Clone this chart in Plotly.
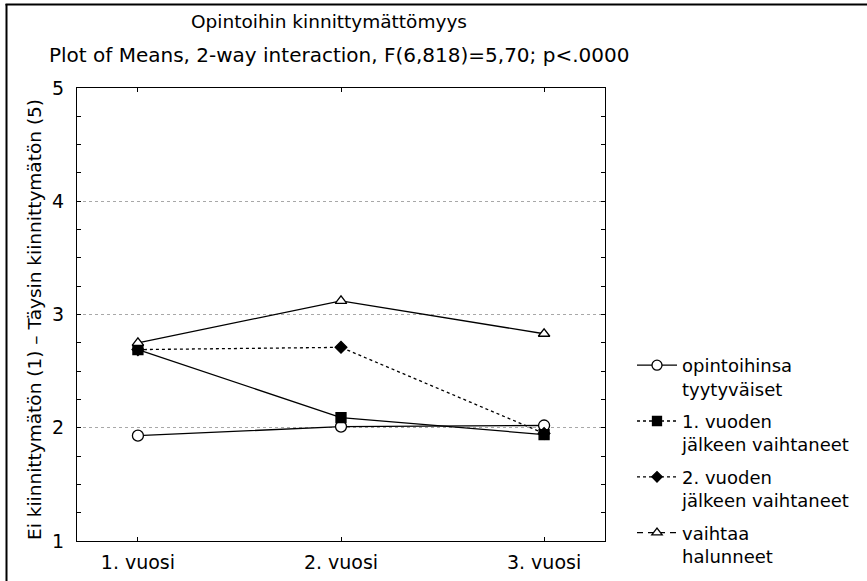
import plotly.graph_objects as go

categories = ["1. vuosi", "2. vuosi", "3. vuosi"]
series_names = ["opintoihinsa<br>tyytyväiset", "1. vuoden<br>jälkeen vaihtaneet",
                "2. vuoden<br>jälkeen vaihtaneet", "vaihtaa<br>halunneet"]
tyytyvaiset = [1.93, 2.01, 2.02]
vaihtaneet_1 = [2.69, 2.09, 1.94]
vaihtaneet_2 = [2.69, 2.71, 1.95]
vaihtaa_halunneet = [2.75, 3.12, 2.83]
y_ticks = [1, 2, 3, 4, 5]

FONT = "DejaVu Sans"
W, H = 867, 581
L, R, T, B = 77, 262, 88, 40
PW, PH = W - L - R, H - T - B

def px_x(p):
    return (p - L) / PW

def px_y(p):
    return (H - B - p) / PH

styles = [
    dict(symbol="circle", size=11, chart_dash="solid", legend_dash="solid", fill="white"),
    dict(symbol="diamond", size=9, chart_dash="dot", legend_dash="dot", fill="black"),
    dict(symbol="square", size=10, chart_dash="solid", legend_dash="3px,3px", fill="black"),
    dict(symbol="triangle-up", size=10, chart_dash="solid", legend_dash="6px,5px", fill="white"),
]
data_in_order = [tyytyvaiset, vaihtaneet_2, vaihtaneet_1, vaihtaa_halunneet]
names_in_order = [series_names[0], series_names[2], series_names[1], series_names[3]]

fig = go.Figure()
for vals, nm, st in zip(data_in_order, names_in_order, styles):
    fig.add_trace(go.Scatter(
        x=categories, y=vals, mode="lines+markers", name=nm, showlegend=False,
        line=dict(color="black", width=1.3, dash=st["chart_dash"]),
        marker=dict(symbol=st["symbol"], size=st["size"], color=st["fill"],
                    line=dict(color="black", width=1.3)),
    ))

# legend entries (legend order as in reference)
legend_order = [0, 2, 1, 3]
for k, idx in enumerate(legend_order):
    st = styles[idx]
    fig.add_trace(go.Scatter(
        x=[None], y=[None], mode="lines+markers", name=names_in_order[idx],
        legendgroup=f"g{k}",
        line=dict(color="black", width=1.3, dash=st["legend_dash"]),
        marker=dict(symbol=st["symbol"], size=st["size"] - 1, color=st["fill"],
                    line=dict(color="black", width=1.3)),
    ))

fig.update_layout(
    width=W, height=H,
    margin=dict(l=L, r=R, t=T, b=B, pad=0, autoexpand=False),
    paper_bgcolor="white", plot_bgcolor="white",
    font=dict(family=FONT, size=18, color="black"),
    legend=dict(x=px_x(632), y=px_y(347), xanchor="left", yanchor="top",
                valign="top", tracegroupgap=6, itemwidth=40,
                font=dict(family=FONT, size=18, color="black"),
                bgcolor="rgba(0,0,0,0)"),
    xaxis=dict(range=[-0.3, 2.3], type="category", showgrid=False,
               showline=True, linecolor="black", linewidth=1, mirror="ticks",
               ticks="inside", ticklen=4, tickcolor="black", ticklabelstandoff=4,
               tickfont=dict(family=FONT, size=19), zeroline=False),
    yaxis=dict(range=[1, 5], tickvals=y_ticks, showgrid=True,
               gridcolor="#a8a8a8", griddash="dot", gridwidth=1,
               showline=True, linecolor="black", linewidth=1, mirror="ticks",
               ticks="inside", ticklen=4, tickcolor="black", ticklabelstandoff=8,
               minor=dict(dtick=0.25, ticks="inside", ticklen=4, tickcolor="black", showgrid=False),
               tickfont=dict(family=FONT, size=19), zeroline=False),
    annotations=[
        dict(text="Opintoihin kinnittymättömyys", xref="paper", yref="paper",
             x=px_x(329), y=px_y(22), xanchor="center", yanchor="middle",
             showarrow=False, font=dict(family=FONT, size=18.5)),
        dict(text="Plot of Means, 2-way interaction, F(6,818)=5,70; p<.0000", xref="paper", yref="paper",
             x=px_x(339), y=px_y(55), xanchor="center", yanchor="middle",
             showarrow=False, font=dict(family=FONT, size=20)),
        dict(text="Ei kiinnittymätön (1) – Täysin kiinnittymätön (5)", xref="paper", yref="paper",
             x=px_x(34), y=px_y(320), xanchor="center", yanchor="middle", textangle=-90,
             showarrow=False, font=dict(family=FONT, size=18.5)),
    ],
    shapes=[
        dict(type="line", xref="paper", yref="paper", x0=px_x(6.5), x1=px_x(6.5),
             y0=px_y(4), y1=px_y(585), line=dict(color="black", width=2)),
        dict(type="line", xref="paper", yref="paper", x0=px_x(5.5), x1=px_x(870),
             y0=px_y(4.5), y1=px_y(4.5), line=dict(color="black", width=2)),
    ],
)

fig.write_html("out.html", config={"displayModeBar": False},
               post_script="document.body.style.margin='0px';")
